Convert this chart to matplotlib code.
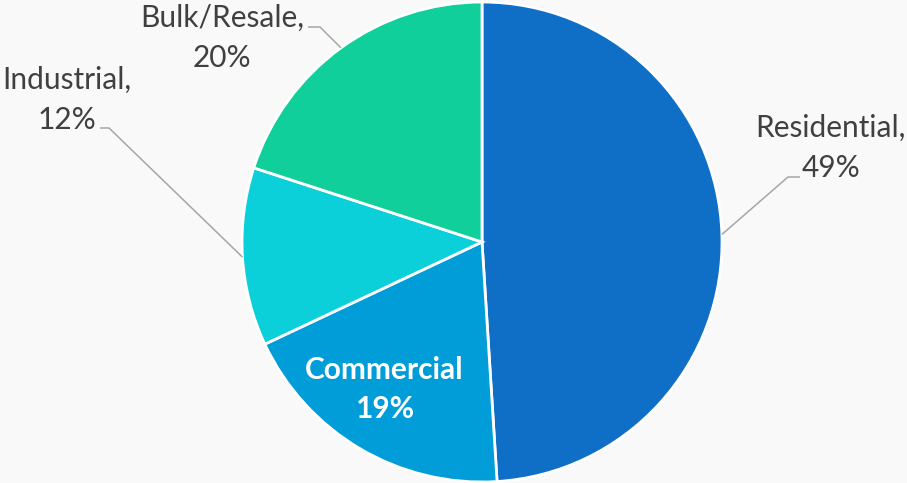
import numpy as np
import matplotlib
matplotlib.use("Agg")
import matplotlib.pyplot as plt

categories = ["Residential", "Commercial", "Industrial", "Bulk/Resale"]
shares = [49, 19, 12, 20]
colors = ["#0F6FC6", "#009DD9", "#0BD0D9", "#10CF9B"]

W, H = 907, 483
fig = plt.figure(figsize=(W / 100, H / 100), dpi=100)
fig.patch.set_facecolor("#F9F9F9")
ax = fig.add_axes([0, 0, 1, 1])

cx, cy, r = 482, H - 242, 240
wedges, _ = ax.pie(shares, colors=colors, startangle=90, counterclock=False,
                   center=(cx, cy), radius=r, frame=True,
                   wedgeprops=dict(edgecolor="white", linewidth=2))
ax.set_xlim(0, W)
ax.set_ylim(0, H)
ax.set_aspect("equal")
ax.axis("off")

font = "Lato"
fs = 21.5
txt_color = "#404040"
lead_color = "#A6A6A6"

# outside labels: text centre x, baselines of both lines, elbow (x, y), leader end x
outside = {
    "Residential": (831, 137, 177, 788, 177, 800),
    "Industrial": (67, 89, 129, 109, 128, 100),
    "Bulk/Resale": (222, 27, 67, 320, 27, 308),
}
for w, name, val in zip(wedges, categories, shares):
    mid = np.deg2rad((w.theta1 + w.theta2) / 2)
    if name in outside:
        tx, b1, b2, ex, ey, hx = outside[name]
        px, py = cx + r * np.cos(mid), cy + r * np.sin(mid)
        ax.plot([px, ex, hx], [py, H - ey, H - ey], color=lead_color, lw=1.1,
                solid_capstyle="butt")
        ax.text(tx, H - b1, f"{name},", ha="center", va="baseline",
                fontsize=fs, family=font, color=txt_color)
        ax.text(tx, H - b2, f"{val}%", ha="center", va="baseline",
                fontsize=fs, family=font, color=txt_color)
    else:
        ax.text(384, H - 379, name, ha="center", va="baseline", fontsize=fs,
                family=font, fontweight="bold", color="white")
        ax.text(385, H - 418, f"{val}%", ha="center", va="baseline", fontsize=fs,
                family=font, fontweight="bold", color="white")

fig.savefig("out.png", dpi=100, facecolor=fig.get_facecolor())
